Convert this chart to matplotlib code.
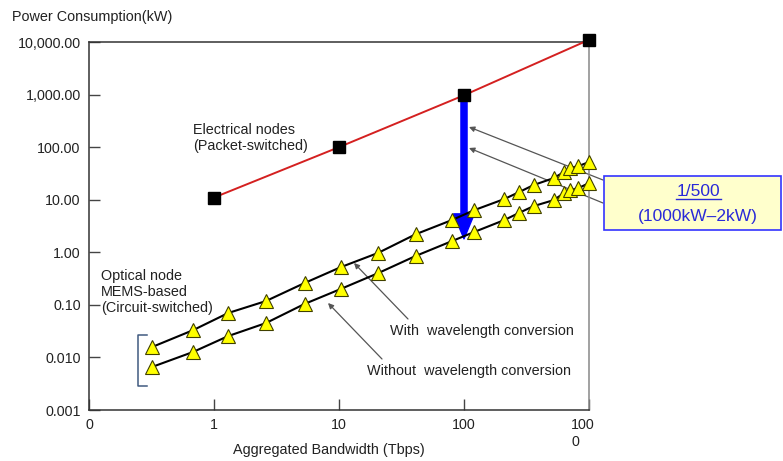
import matplotlib
matplotlib.use("Agg")
import matplotlib.pyplot as plt
from matplotlib.patches import Rectangle
from matplotlib.lines import Line2D
import matplotlib.transforms as mtransforms

plt.rcParams['font.family'] = ['Liberation Sans', 'DejaVu Sans']

# electrical (packet-switched) nodes
bw_elec = [1, 10, 100, 1000]
pw_elec = [11, 100, 970, 11000]

# optical MEMS nodes
bw_opt = [0.32, 0.68, 1.3, 2.6, 5.3, 10.3, 20.5, 41, 80, 120,
          210, 275, 360, 520, 630, 700, 820, 1000]
pw_with = [0.0158, 0.033, 0.070, 0.118, 0.26, 0.52, 0.97, 2.2, 4.1, 6.3,
           10.3, 13.9, 19, 25.7, 33.5, 40, 43.5, 52]
pw_without = [0.0066, 0.0127, 0.0255, 0.045, 0.104, 0.20, 0.40, 0.85, 1.63, 2.42,
              4.1, 5.6, 7.55, 9.8, 13.3, 15.2, 16.6, 20.7]
reduced_to = 1.8

x_ticks = [0.1, 1, 10, 100, 1000]
x_labels = ['0', '1', '10', '100', '100\n0']
y_ticks = [0.001, 0.01, 0.1, 1, 10, 100, 1000, 10000]
y_labels = ['0.001', '0.010', '0.10', '1.00', '10.00', '100.00', '1,000.00', '10,000.00']

W, H = 783, 461


def px(x, y):
    # pixel position (from top-left) -> figure fraction
    return (x / W, 1 - y / H)


fig = plt.figure(figsize=(W / 100, H / 100), dpi=100)
ax = fig.add_axes([89 / W, (H - 410) / H, 500 / W, 368 / H])
ax.set_xscale('log')
ax.set_yscale('log')
ax.set_xlim(0.1, 1000)
ax.set_ylim(0.001, 10000)

ax.plot(bw_elec, pw_elec, color='#D42020', lw=1.4, marker='s', ms=8,
        mfc='black', mec='black', clip_on=False, zorder=4)
for pw in (pw_with, pw_without):
    ax.plot(bw_opt, pw, color='black', lw=1.5, marker='^', ms=10,
            mfc='#FFFF00', mec='#404000', mew=0.8, clip_on=False, zorder=4)

# blue reduction arrow
ax.annotate('', xy=(bw_elec[2], reduced_to), xytext=(bw_elec[2], pw_elec[2]),
            arrowprops=dict(arrowstyle='simple,head_length=0.9,head_width=0.75,tail_width=0.22',
                            mutation_scale=20, color='#0000FF', shrinkA=0, shrinkB=0),
            zorder=3)

ax.set_xticks(x_ticks)
ax.set_xticklabels(x_labels)
ax.set_yticks(y_ticks)
ax.set_yticklabels(y_labels)
ax.minorticks_off()
ax.tick_params(direction='in', length=8, width=1, colors='#444444',
               labelcolor='#222222', labelsize=10.3, pad=6)
lab = ax.get_xticklabels()[-1]
lab.set_multialignment('left')
lab.set_transform(lab.get_transform() + mtransforms.ScaledTranslation(-6 / 100, 0, fig.dpi_scale_trans))

for s in ['left', 'bottom', 'top']:
    ax.spines[s].set_color('#333333')
    ax.spines[s].set_linewidth(1.1)
ax.spines['right'].set_color('#888888')
ax.spines['right'].set_linewidth(1.1)

txt = '#222222'
fs = 10.4
fig.text(*px(12, 17), 'Power Consumption(kW)', fontsize=fs, color=txt, va='center')
fig.text(*px(329, 450), 'Aggregated Bandwidth (Tbps)', fontsize=fs, color=txt,
         ha='center', va='center')
fig.text(*px(193, 138), 'Electrical nodes\n(Packet-switched)', fontsize=fs, color=txt,
         va='center', linespacing=1.2)
fig.text(*px(101, 292), 'Optical node\nMEMS-based\n(Circuit-switched)', fontsize=fs,
         color=txt, va='center', linespacing=1.15)
fig.text(*px(390, 331), 'With  wavelength conversion', fontsize=fs, color=txt, va='center')
fig.text(*px(367, 371), 'Without  wavelength conversion', fontsize=fs, color=txt, va='center')

thin = dict(arrowstyle='-|>', color='#555555', lw=0.9, mutation_scale=8,
            shrinkA=0, shrinkB=0)
for start, end in [((408, 319), (354, 263)), ((382, 359), (328, 303)),
                   ((603, 180), (469, 127)), ((603, 203), (469, 148))]:
    ax.annotate('', xy=px(*end), xycoords='figure fraction',
                xytext=px(*start), textcoords='figure fraction',
                arrowprops=thin, annotation_clip=False, zorder=2)

# bracket
bx = [px(147, 335), px(138, 335), px(138, 386), px(147, 386)]
fig.add_artist(Line2D([p[0] for p in bx], [p[1] for p in bx], color='#405a80', lw=1.1))

# callout box
fig.add_artist(Rectangle(px(604, 230), 177 / W, 54 / H, transform=fig.transFigure,
                         fc='#FFFFCC', ec='#3333FF', lw=1.2))
fig.text(*px(698, 192), '1/500', fontsize=12.5, color='#2A2AD8', ha='center', va='center')
fig.add_artist(Line2D([676 / W, 721 / W], [1 - 199 / H, 1 - 199 / H], color='#2A2AD8', lw=1))
fig.text(*px(698, 216), '(1000kW\u20132kW)', fontsize=12.5, color='#2A2AD8',
         ha='center', va='center')

fig.savefig('out.png', dpi=100)
